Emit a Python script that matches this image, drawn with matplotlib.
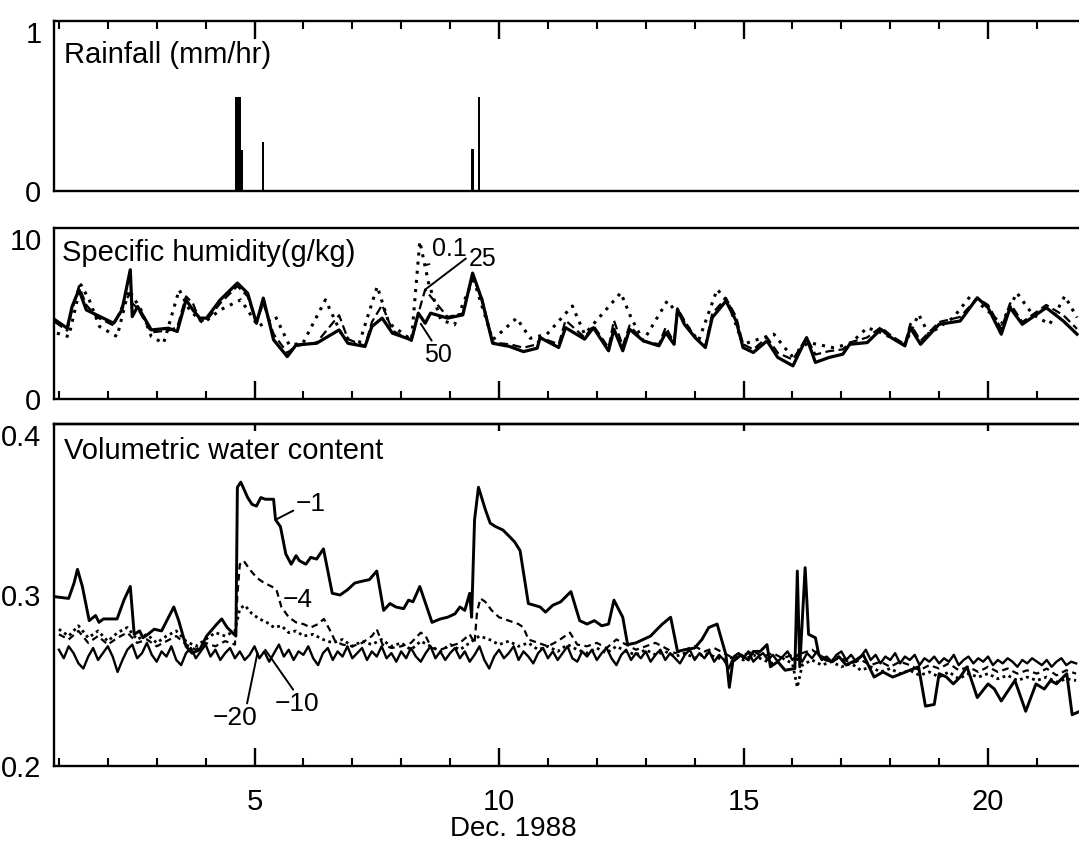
import numpy as np
import matplotlib.pyplot as plt
from matplotlib.ticker import MultipleLocator, FixedLocator

plt.rcParams['font.family'] = ['Liberation Sans', 'DejaVu Sans']

# --- rainfall (mm/hr), hourly bars ---
rain_day = [4.625, 4.667, 4.708, 4.75, 5.167, 9.458, 9.583]
rain_mm = [0.55, 0.55, 0.55, 0.24, 0.29, 0.25, 0.55]

# --- specific humidity (g/kg) ---
q_day = [0.92, 1.17, 1.27, 1.41, 1.56, 1.77, 2.12, 2.29, 2.46, 2.50,
         2.61, 2.89, 3.24, 3.42, 3.60, 3.74, 3.88, 4.02, 4.30, 4.65,
         4.86, 5.04, 5.18, 5.39, 5.67, 5.85, 6.27, 6.73, 6.91, 7.26,
         7.40, 7.61, 7.82, 8.21, 8.35, 8.49, 8.60, 8.95, 9.26, 9.46,
         9.65, 9.87, 10.22, 10.50, 10.78, 10.84, 11.22, 11.36, 11.75, 11.93,
         12.24, 12.35, 12.53, 12.67, 12.95, 13.27, 13.41, 13.58, 13.65, 13.79,
         14.01, 14.22, 14.36, 14.64, 14.85, 14.99, 15.20, 15.48, 15.70, 16.01,
         16.29, 16.47, 16.75, 17.03, 17.17, 17.53, 17.81, 18.02, 18.30, 18.41,
         18.62, 19.00, 19.43, 19.78, 20.00, 20.27, 20.45, 20.70, 21.19, 21.54, 21.82]
q50 = [4.63, 4.14, 5.41, 6.39, 5.21, 4.92, 4.43, 5.21, 7.56, 4.82,
       5.41, 4.04, 4.14, 3.95, 5.80, 5.21, 4.73, 4.73, 5.80, 6.78,
       6.19, 4.43, 5.90, 3.46, 2.48, 3.16, 3.26, 4.04, 3.26, 3.07,
       4.24, 4.73, 3.85, 3.46, 5.02, 4.43, 5.02, 4.73, 4.92, 7.36,
       5.80, 3.26, 3.07, 2.77, 2.97, 3.59, 3.01, 4.17, 3.50, 4.17,
       2.82, 4.08, 2.82, 4.08, 3.40, 3.11, 3.88, 3.20, 5.24, 4.37,
       3.59, 3.01, 4.76, 5.73, 4.56, 3.01, 2.72, 3.40, 2.43, 1.94,
       3.59, 2.14, 2.43, 2.62, 3.20, 3.30, 4.08, 3.59, 3.11, 4.17,
       3.20, 4.37, 4.56, 5.92, 5.34, 3.79, 5.34, 4.37, 5.34, 4.56, 3.79]
q25 = [4.5, 4.0, 5.2, 6.6, 5.5, 4.8, 4.3, 5.4, 6.2, 5.6,
       5.3, 3.9, 4.0, 4.2, 6.0, 5.6, 4.6, 4.6, 5.6, 6.6,
       6.0, 4.5, 5.6, 3.8, 2.7, 3.1, 3.3, 4.9, 3.5, 3.1,
       4.5, 5.5, 4.0, 3.4, 5.0, 6.4, 6.0, 4.8, 5.0, 7.2,
       5.9, 3.3, 3.2, 3.0, 3.2, 3.6, 3.2, 4.6, 3.6, 4.3,
       3.0, 4.6, 3.1, 4.3, 3.4, 3.2, 4.2, 3.3, 5.3, 4.6,
       3.6, 3.1, 5.0, 5.9, 4.8, 3.2, 2.9, 3.6, 2.7, 2.3,
       3.6, 2.6, 2.8, 2.9, 3.3, 3.6, 4.2, 3.7, 3.2, 4.4,
       3.4, 4.5, 4.8, 5.9, 5.5, 4.1, 5.6, 4.5, 5.5, 4.9, 4.1]
q01_day = [0.96, 1.20, 1.45, 1.62, 1.83, 2.19, 2.43, 2.68, 2.89, 3.14,
           3.46, 3.67, 3.95, 4.30, 4.72, 5.08, 5.43, 5.71, 5.99, 6.45,
           6.77, 7.12, 7.51, 7.75, 8.21, 8.38, 8.56, 8.81, 9.09, 9.41,
           9.46, 9.87, 10.36, 10.64, 10.98, 11.50, 11.75, 12.49, 12.70, 12.95,
           13.44, 13.72, 14.08, 14.46, 14.67, 14.99, 15.62, 15.98, 16.33, 16.82,
           17.17, 17.53, 17.81, 18.30, 18.58, 18.79, 19.29, 19.64, 20.00, 20.27,
           20.59, 20.91, 21.26, 21.57, 21.82]
q01 = [3.85, 3.65, 6.68, 5.80, 4.24, 3.65, 6.39, 5.21, 3.65, 3.26,
       6.39, 5.21, 4.43, 5.21, 5.80, 4.24, 4.82, 3.16, 3.26, 5.80,
       3.85, 3.07, 6.58, 4.43, 3.46, 9.22, 6.78, 4.63, 4.34, 6.58,
       7.17, 3.46, 4.73, 3.55, 3.79, 5.44, 3.79, 6.21, 4.76, 3.40,
       5.73, 4.76, 3.40, 6.41, 5.73, 3.20, 3.79, 2.52, 3.30, 3.01,
       3.20, 4.17, 3.88, 3.20, 4.95, 3.79, 4.76, 6.02, 5.15, 4.37,
       6.21, 4.95, 4.37, 6.02, 4.76]

# --- volumetric water content, depth -1 cm (day, value) ---
w1_pts = [(0.92, .299), (1.20, .298), (1.31, .307), (1.38, .315), (1.48, .305),
          (1.62, .285), (1.75, .288), (1.82, .284), (1.91, .286), (2.19, .286),
          (2.33, .297), (2.46, .305), (2.54, .277), (2.65, .279), (2.72, .275),
          (2.82, .277), (2.95, .280), (3.10, .279), (3.35, .293), (3.45, .285),
          (3.60, .270), (3.72, .266), (3.88, .268), (4.02, .276), (4.23, .283),
          (4.33, .286), (4.44, .281), (4.62, .276), (4.65, .363), (4.72, .366),
          (4.86, .357), (4.95, .353), (5.04, .352), (5.13, .357), (5.22, .356),
          (5.39, .356), (5.43, .344), (5.53, .340), (5.64, .324), (5.75, .318),
          (5.85, .323), (5.92, .320), (6.05, .318), (6.15, .322), (6.27, .321),
          (6.41, .327), (6.59, .301), (6.75, .300), (6.90, .303), (7.05, .307),
          (7.19, .308), (7.35, .309), (7.50, .314), (7.64, .291), (7.77, .295),
          (7.89, .293), (8.05, .292), (8.15, .297), (8.24, .296), (8.38, .305),
          (8.63, .284), (8.80, .286), (8.95, .287), (9.10, .289), (9.20, .293),
          (9.30, .291), (9.40, .301), (9.44, .287), (9.50, .344), (9.58, .363),
          (9.72, .350), (9.82, .342), (9.93, .340), (10.08, .338), (10.22, .334),
          (10.32, .331), (10.43, .326), (10.60, .295), (10.84, .293), (10.95, .290),
          (11.10, .294), (11.26, .296), (11.47, .302), (11.65, .285), (11.80, .283),
          (11.95, .285), (12.10, .282), (12.24, .283), (12.35, .297), (12.53, .287),
          (12.63, .271), (12.80, .272), (12.95, .274), (13.10, .276), (13.20, .279),
          (13.34, .283), (13.51, .287), (13.65, .267), (13.80, .268), (14.00, .269),
          (14.15, .274), (14.29, .281), (14.46, .283), (14.64, .265), (14.71, .246),
          (14.78, .261), (14.95, .265), (15.10, .262), (15.20, .267), (15.34, .267),
          (15.48, .271), (15.55, .258), (15.70, .261), (15.85, .256), (16.05, .257),
          (16.10, .314), (16.15, .258), (16.26, .316), (16.33, .277), (16.47, .275),
          (16.54, .265), (16.68, .262), (16.82, .261), (16.95, .264), (17.10, .259),
          (17.30, .262), (17.45, .265), (17.67, .252), (17.85, .255), (18.05, .252),
          (18.23, .254), (18.40, .256), (18.58, .258), (18.72, .235), (18.90, .236),
          (19.00, .254), (19.15, .252), (19.29, .248), (19.43, .252), (19.57, .258),
          (19.78, .240), (20.00, .248), (20.13, .245), (20.27, .238), (20.55, .250),
          (20.77, .232), (20.98, .248), (21.15, .245), (21.28, .250), (21.40, .248),
          (21.61, .254), (21.72, .230), (21.88, .232)]
w1_day, w1 = zip(*w1_pts)

# depth -4 cm
w4_day = [1.0, 1.2, 1.4, 1.6, 1.8, 2.0, 2.2, 2.4, 2.6, 2.8,
          3.0, 3.2, 3.4, 3.6, 3.8, 4.0, 4.2, 4.4, 4.6, 4.65,
          4.70, 4.78, 4.9, 5.05, 5.2, 5.35, 5.45, 5.55, 5.7, 5.85,
          6.0, 6.15, 6.3, 6.42, 6.55, 6.65, 6.8, 7.0, 7.2, 7.4,
          7.5, 7.62, 7.8, 8.0, 8.2, 8.4, 8.5, 8.62, 8.8, 9.0,
          9.2, 9.4, 9.5, 9.55, 9.62, 9.72, 9.85, 10.0, 10.2, 10.4,
          10.5, 10.6, 10.8, 11.0, 11.2, 11.45, 11.6, 11.8, 12.0, 12.2,
          12.4, 12.6, 12.8, 13.0, 13.2, 13.4, 13.6, 13.8, 14.0, 14.2,
          14.4, 14.6, 14.8, 15.0, 15.2, 15.4, 15.6, 15.8, 16.0, 16.1,
          16.2, 16.4, 16.6, 16.8, 17.0, 17.2, 17.4, 17.6, 17.8, 18.0,
          18.2, 18.4, 18.6, 18.8, 19.0, 19.2, 19.4, 19.6, 19.8, 20.0,
          20.2, 20.4, 20.6, 20.8, 21.0, 21.2, 21.4, 21.6, 21.8]
w4 = [.277, .274, .279, .272, .276, .271, .275, .278, .272, .274,
      .270, .273, .276, .271, .268, .272, .270, .273, .271, .300,
      .318, .320, .315, .310, .307, .305, .303, .293, .287, .284,
      .283, .281, .283, .286, .279, .273, .271, .270, .272, .276,
      .280, .271, .269, .270, .272, .278, .276, .269, .268, .270,
      .272, .277, .272, .290, .298, .296, .291, .287, .285, .283,
      .281, .274, .272, .270, .273, .278, .271, .270, .272, .269,
      .274, .271, .268, .270, .272, .269, .266, .268, .270, .267,
      .269, .266, .263, .265, .267, .264, .266, .263, .265, .262,
      .266, .268, .264, .262, .263, .260, .262, .259, .261, .258,
      .261, .259, .256, .259, .257, .260, .256, .258, .255, .258,
      .255, .257, .254, .256, .254, .257, .253, .256, .254]

# depth -10 cm
w10_day = [1.0, 1.2, 1.4, 1.6, 1.8, 2.0, 2.2, 2.4, 2.6, 2.8,
           3.0, 3.2, 3.4, 3.6, 3.8, 4.0, 4.2, 4.4, 4.6, 4.7,
           4.8, 4.95, 5.1, 5.25, 5.4, 5.55, 5.7, 5.85, 6.0, 6.2,
           6.4, 6.6, 6.8, 7.0, 7.2, 7.4, 7.6, 7.8, 8.0, 8.2,
           8.4, 8.6, 8.8, 9.0, 9.2, 9.4, 9.6, 9.8, 10.0, 10.2,
           10.4, 10.6, 10.8, 11.0, 11.2, 11.4, 11.6, 11.8, 12.0, 12.2,
           12.4, 12.6, 12.8, 13.0, 13.2, 13.4, 13.6, 13.8, 14.0, 14.2,
           14.4, 14.6, 14.8, 15.0, 15.2, 15.4, 15.6, 15.8, 16.0, 16.1,
           16.2, 16.4, 16.6, 16.8, 17.0, 17.2, 17.4, 17.6, 17.8, 18.0,
           18.2, 18.4, 18.6, 18.8, 19.0, 19.2, 19.4, 19.6, 19.8, 20.0,
           20.2, 20.4, 20.6, 20.8, 21.0, 21.2, 21.4, 21.6, 21.8]
w10 = [.280, .276, .282, .275, .279, .273, .278, .281, .274, .277,
       .272, .276, .279, .273, .270, .274, .278, .276, .279, .292,
       .294, .289, .286, .284, .281, .282, .278, .279, .276, .277,
       .274, .272, .274, .270, .273, .271, .274, .270, .272, .268,
       .273, .270, .267, .271, .268, .272, .276, .274, .271, .273,
       .270, .272, .268, .270, .267, .271, .268, .266, .269, .266,
       .270, .267, .265, .268, .265, .267, .264, .266, .263, .266,
       .264, .262, .264, .262, .265, .262, .260, .263, .260, .246,
       .259, .262, .259, .261, .258, .260, .256, .258, .255, .257,
       .254, .256, .253, .255, .252, .255, .251, .254, .252, .254,
       .251, .253, .250, .252, .250, .252, .249, .251, .250]

# depth -20 cm, read every 0.1 day from day 1.0
w20 = [.268, .263, .270, .266, .260, .257, .264, .269, .262, .266,
       .270, .264, .255, .262, .268, .271, .263, .266, .272, .265,
       .261, .267, .264, .270, .262, .259, .266, .269, .263, .267,
       .271, .264, .268, .262, .266, .269, .263, .267, .262, .265,
       .270, .263, .267, .261, .266, .271, .264, .268, .262, .267,
       .265, .270, .263, .259, .266, .269, .262, .267, .264, .270,
       .263, .266, .269, .262, .267, .264, .270, .263, .266, .261,
       .267, .263, .269, .264, .261, .266, .270, .263, .267, .262,
       .266, .269, .263, .267, .261, .265, .270, .262, .257, .264,
       .268, .263, .266, .270, .262, .267, .264, .260, .266, .269,
       .263, .267, .262, .266, .270, .263, .261, .267, .264, .268,
       .262, .266, .269, .263, .259, .265, .268, .262, .266, .263,
       .267, .261, .265, .268, .262, .266, .263, .260, .265, .268,
       .262, .266, .263, .267, .261, .265, .262, .257, .264, .266,
       .263, .267, .261, .264, .266, .262, .265, .261, .264, .267,
       .262, .265, .261, .266, .263, .267, .262, .264, .261, .265,
       .267, .262, .265, .261, .264, .268, .262, .265, .260, .264,
       .262, .266, .260, .264, .262, .265, .259, .263, .261, .264,
       .260, .263, .261, .265, .259, .262, .264, .260, .263, .261,
       .264, .259, .262, .260, .263, .261, .258, .262, .260, .263,
       .261, .259, .262, .258, .261, .263, .259, .261, .260]
w20_day = np.linspace(1.0, 21.8, len(w20))

W, H = 1079, 846
left = 54 / W
fig = plt.figure(figsize=(W / 100, H / 100), dpi=100)
ax1 = fig.add_axes([left, 1 - 191 / H, 1 - left, 170 / H])
ax2 = fig.add_axes([left, 1 - 399 / H, 1 - left, 171 / H])
ax3 = fig.add_axes([left, 1 - 766 / H, 1 - left, 342 / H])

for ax in (ax1, ax2, ax3):
    ax.set_xlim(0.9, 21.86)
    ax.spines['right'].set_visible(False)
    for s in ('left', 'top', 'bottom'):
        ax.spines[s].set_linewidth(1.7)
    ax.xaxis.set_major_locator(FixedLocator([5, 10, 15, 20]))
    ax.xaxis.set_minor_locator(MultipleLocator(1))
    ax.tick_params(axis='x', which='major', direction='in', length=13, width=1.7)
    ax.tick_params(axis='x', which='minor', direction='in', length=6, width=1.5)
    ax.tick_params(axis='y', length=0, labelsize=21, pad=9)

# rainfall
ax1.bar(rain_day, rain_mm, width=1 / 24, color='black')
ax1.set_ylim(0, 1)
ax1.set_yticks([0, 1])
lab = ax1.set_yticklabels(['0', '1'])
lab[-1].set_va('top')
ax1.tick_params(axis='x', which='both', top=True, bottom=False, labelbottom=False)
ax1.text(0.01, 0.80, 'Rainfall (mm/hr)', transform=ax1.transAxes, fontsize=21, va='center')

# humidity
ax2.plot(q01_day, q01, color='black', lw=2.2, ls=(0, (1, 2.0)))
ax2.plot(q_day, q25, color='black', lw=1.6, ls=(0, (4, 2)))
ax2.plot(q_day, q50, color='black', lw=2.3)
ax2.set_ylim(0, 10)
ax2.set_yticks([0, 10])
lab = ax2.set_yticklabels(['0', '10'])
lab[-1].set_va('top')
ax2.tick_params(axis='x', which='both', top=False, bottom=True, labelbottom=False)
ax2.text(0.008, 0.855, 'Specific humidity(g/kg)', transform=ax2.transAxes, fontsize=21, va='center')
lead = dict(arrowstyle='-', lw=1.4, color='black', shrinkA=0, shrinkB=0)
ax2.annotate('0.1', xy=(8.52, 7.85), xytext=(8.62, 8.75), fontsize=18, va='center',
             arrowprops=dict(lead, relpos=(0.3, 0.0)))
ax2.annotate('25', xy=(8.49, 6.4), xytext=(9.38, 8.2), fontsize=18, va='center',
             arrowprops=dict(lead, relpos=(0.0, 0.6)))
ax2.annotate('50', xy=(8.40, 4.4), xytext=(8.46, 2.55), fontsize=18, va='center',
             arrowprops=dict(lead, relpos=(0.35, 1.0)))

# water content
ax3.plot(w20_day, w20, color='black', lw=1.7)
ax3.plot(w10_day, w10, color='black', lw=2.0, ls=(0, (1, 1.3)))
ax3.plot(w4_day, w4, color='black', lw=1.6, ls=(0, (3, 2)))
ax3.plot(w1_day, w1, color='black', lw=2.1)
ax3.set_ylim(0.2, 0.4)
ax3.set_yticks([0.2, 0.3, 0.4])
lab = ax3.set_yticklabels(['0.2', '0.3', '0.4'])
lab[-1].set_va('top')
ax3.tick_params(axis='x', which='both', top=False, bottom=True, labelbottom=True,
                labelsize=21, pad=16)
top = ax3.secondary_xaxis('top')
top.xaxis.set_major_locator(FixedLocator([5, 10, 15, 20]))
top.tick_params(direction='in', length=5, width=1.7, labeltop=False)
top.spines['top'].set_linewidth(1.7)
ax3.text(0.01, 0.92, 'Volumetric water content', transform=ax3.transAxes, fontsize=21, va='center')
ax3.annotate('\u22121', xy=(5.43, 0.344), xytext=(5.85, 0.353), fontsize=19, va='center',
             arrowprops=dict(lead, relpos=(0.0, 0.3)))
ax3.text(5.58, 0.297, '\u22124', fontsize=19, va='center')
ax3.annotate('\u221210', xy=(5.22, 0.268), xytext=(5.42, 0.236), fontsize=19, va='center',
             arrowprops=dict(lead, relpos=(0.45, 1.0)))
ax3.annotate('\u221220', xy=(5.06, 0.266), xytext=(4.15, 0.228), fontsize=19, va='center',
             arrowprops=dict(lead, relpos=(0.75, 1.0)))

fig.text(513 / W, 1 - 829 / H, 'Dec. 1988', fontsize=20, ha='center', va='center')

fig.savefig('out.png', dpi=100)
